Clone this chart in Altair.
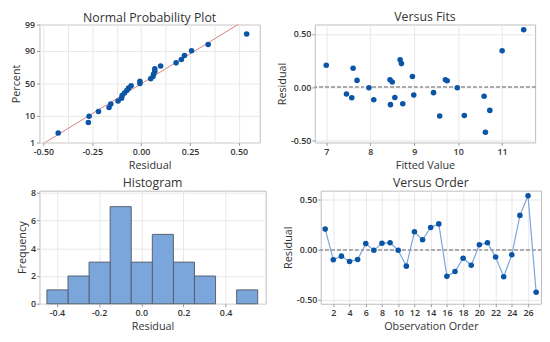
import altair as alt
import pandas as pd
from statistics import NormalDist

# ---- data ----
order = list(range(1, 28))
residual = [0.206, -0.100, -0.064, -0.118, -0.097, 0.061, -0.006, 0.064, 0.070,
            -0.006, -0.164, 0.179, 0.100, 0.222, 0.258, -0.266, -0.218, -0.085,
            -0.155, 0.049, 0.070, -0.073, -0.270, -0.051, 0.343, 0.540, -0.424]
fitted = [7.00, 7.58, 7.46, 8.08, 8.56, 9.75, 7.97, 7.70, 8.45,
          9.98, 8.46, 7.61, 8.96, 8.71, 8.68, 10.14, 10.72, 10.59,
          8.74, 8.50, 9.71, 8.99, 9.58, 9.44, 11.00, 11.49, 10.62]

prob_ticks = [1, 10, 50, 90, 99]
prob_x_grid = [-0.5, -0.375, -0.25, -0.125, 0.0, 0.125, 0.25, 0.375, 0.5]
res_ticks = [-0.5, -0.25, 0.0, 0.25, 0.5]
fit_ticks = [7, 8, 9, 10, 11]
hist_x_ticks = [-0.4, -0.2, 0.0, 0.2, 0.4]
hist_y_ticks = [0, 2, 4, 6, 8]
order_ticks = [2, 4, 6, 8, 10, 12, 14, 16, 18, 20, 22, 24, 26]

df = pd.DataFrame({"Order": order, "Residual": residual, "Fitted": fitted})

PT = "#0B55A6"
FONT = "Open Sans"
MINUS = "\u2212"

nd = NormalDist()
z_ticks = [nd.inv_cdf(p / 100) for p in prob_ticks]
z_lo, z_hi = z_ticks[0], z_ticks[-1]


def fmt(spec):
    return f"replace(format(datum.value, '{spec}'), '{MINUS}', '-')"


def ttl(text, off):
    return alt.TitleParams(text, anchor="middle", frame="group", fontSize=12.5,
                           fontWeight="normal", color="#333333", font=FONT, offset=off)


# ---- Normal probability plot ----
prob_base = (
    alt.Chart(df)
    .transform_window(rank="row_number()", sort=[alt.SortField("Residual")])
    .transform_joinaggregate(n="count()")
    .transform_calculate(z="quantileNormal((datum.rank - 0.3) / (datum.n + 0.4))")
)
px = alt.X("Residual:Q",
           scale=alt.Scale(domain=[-0.52, 0.607], nice=False, zero=False),
           axis=alt.Axis(values=prob_x_grid, title="Residual",
                         labelExpr="abs(datum.value*4 - round(datum.value*4)) < 0.001 ? " + fmt(".2f") + " : ''",
                         tickOpacity={"condition": {"test": "abs(datum.value*4 - round(datum.value*4)) > 0.001", "value": 0}, "value": 1}))
py = alt.Y("z:Q",
           scale=alt.Scale(domain=[z_lo, z_hi], nice=False, zero=False),
           axis=alt.Axis(values=z_ticks, title="Percent", labelPadding=2,
                         labelExpr="format(round(cumulativeNormal(datum.value)*100), 'd')"))
prob_pts = prob_base.mark_circle(size=32, color=PT, opacity=1).encode(x=px, y=py)
prob_line = (
    prob_base.transform_regression(on="z", regression="Residual", extent=[-3, 3])
    .mark_line(color="#D98080", strokeWidth=1, clip=True)
    .encode(x=px, y=py)
)
p1 = alt.layer(prob_line, prob_pts).properties(width=224, height=120, title=ttl("Normal Probability Plot", -4))

# ---- Versus fits ----
fx = alt.X("Fitted:Q", scale=alt.Scale(domain=[6.74, 11.75], nice=False, zero=False),
           axis=alt.Axis(values=fit_ticks, format="d", title="Fitted Value"))
fy = alt.Y("Residual:Q", scale=alt.Scale(domain=[-0.52, 0.59], nice=False, zero=False),
           axis=alt.Axis(values=res_ticks, labelExpr=fmt(".2f"), title="Residual"))
fit_zero = alt.Chart(df).mark_rule(color="#AAAAAA", strokeDash=[3, 3], strokeWidth=1).encode(y=alt.datum(0))
fit_pts = alt.Chart(df).mark_circle(size=32, color=PT, opacity=1).encode(x=fx, y=fy)
p2 = alt.layer(fit_zero, fit_pts).properties(width=224, height=120, title=ttl("Versus Fits", 1))

# ---- Histogram ----
p3 = (
    alt.Chart(df)
    .mark_bar(color="#7BA6DC", stroke="#55606E", strokeWidth=1, binSpacing=0)
    .encode(
        x=alt.X("Residual:Q", bin=alt.Bin(extent=[-0.45, 0.55], step=0.1, nice=False),
                scale=alt.Scale(domain=[-0.483, 0.59], nice=False, zero=False),
                axis=alt.Axis(values=hist_x_ticks, labelExpr=fmt(".1f"), title="Residual")),
        y=alt.Y("count():Q", scale=alt.Scale(domain=[0, 8.15], nice=False),
                axis=alt.Axis(values=hist_y_ticks, format="d", title="Frequency")),
    )
    .properties(width=230, height=115, title=ttl("Histogram", -1))
)

# ---- Versus order ----
ox = alt.X("Order:Q", scale=alt.Scale(domain=[0.45, 27.6], nice=False, zero=False),
           axis=alt.Axis(values=order_ticks, format="d", title="Observation Order"))
oy = alt.Y("Residual:Q", scale=alt.Scale(domain=[-0.54, 0.59], nice=False, zero=False),
           axis=alt.Axis(values=res_ticks, labelExpr=fmt(".2f"), title="Residual"))
ord_zero = alt.Chart(df).mark_rule(color="#AAAAAA", strokeDash=[3, 3], strokeWidth=1).encode(y=alt.datum(0))
ord_line = alt.Chart(df).mark_line(color="#7AA6DA", strokeWidth=1.2).encode(x=ox, y=oy)
ord_pts = alt.Chart(df).mark_circle(size=32, color=PT, opacity=1).encode(x=ox, y=oy)
p4 = alt.layer(ord_zero, ord_line, ord_pts).properties(width=224, height=115, title=ttl("Versus Order", 1))

chart = (
    alt.vconcat(
        alt.hconcat(p1, p2, spacing=15),
        alt.hconcat(p3, p4, spacing=15),
        spacing=6,
    )
    .properties(padding={"left": 2, "top": 0, "right": 0, "bottom": 0})
    .configure_view(stroke="#BDBDBD", strokeWidth=1)
    .configure_axis(
        domain=False,
        grid=True,
        gridColor="#E8E8E8",
        gridWidth=1,
        tickColor="#9A9A9A",
        tickSize=3,
        labelFont=FONT,
        labelFontSize=9,
        labelFontWeight=600,
        labelColor="#333333",
        labelPadding=1,
        labelOverlap=False,
        titleFont=FONT,
        titleFontSize=11,
        titleFontWeight="normal",
        titleColor="#333333",
        titlePadding=3,
    )
    .configure_axisX(labelPadding=2, titlePadding=3)
)

chart.save("out.html", embed_options={"renderer": "svg", "actions": False})
